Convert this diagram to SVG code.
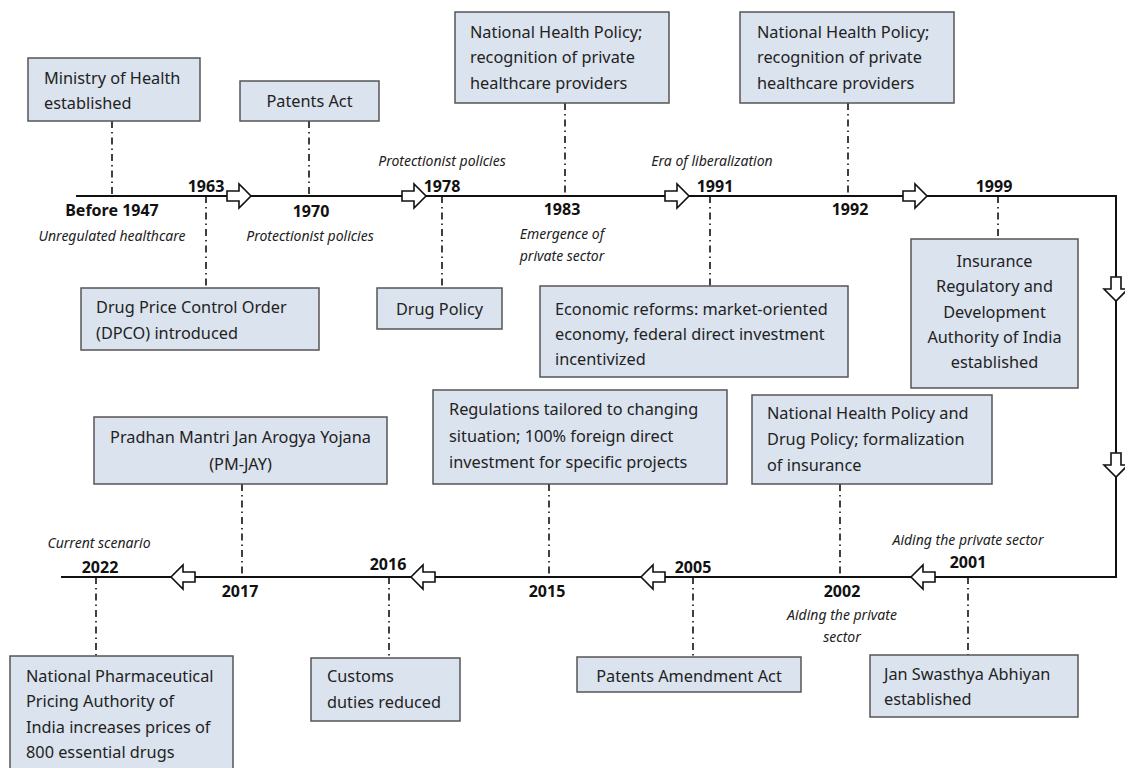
<svg xmlns="http://www.w3.org/2000/svg" width="1125" height="768" viewBox="0 0 1125 768">
<style>
.box{fill:#dbe3ef;stroke:#555;stroke-width:1.5}
.t{font-family:"Noto Sans","Open Sans",sans-serif;font-size:16.3px;fill:#222}
.c{text-anchor:middle}
.yr{font-family:"Noto Sans","Open Sans",sans-serif;font-size:16px;font-weight:bold;fill:#111;text-anchor:middle}
.it{font-family:"Noto Sans","Open Sans",sans-serif;font-size:14px;font-style:italic;fill:#222;text-anchor:middle}
.line{stroke:#111;stroke-width:2;fill:none}
.dd{stroke:#111;stroke-width:1.6;fill:none;stroke-dasharray:7 4 1.5 4}
.arr{fill:#fff;stroke:#111;stroke-width:1.6;stroke-linejoin:miter}
</style>
<defs>
<polygon id="ar" class="arr" points="-12,-5 0,-5 0,-12 12,0 0,12 0,5 -12,5"/>
</defs>
<rect width="1125" height="768" fill="#fff"/>
<g id="connectors">
<polyline class="line" points="76,196 1116,196 1116,577 61,577"/>
<line class="dd" x1="112" y1="121" x2="112" y2="196"/>
<line class="dd" x1="206" y1="196" x2="206" y2="288"/>
<line class="dd" x1="309" y1="121" x2="309" y2="196"/>
<line class="dd" x1="442" y1="196" x2="442" y2="288"/>
<line class="dd" x1="565" y1="103" x2="565" y2="196"/>
<line class="dd" x1="710" y1="196" x2="710" y2="286"/>
<line class="dd" x1="848" y1="103" x2="848" y2="196"/>
<line class="dd" x1="998" y1="196" x2="998" y2="239"/>
<line class="dd" x1="968" y1="577" x2="968" y2="655"/>
<line class="dd" x1="840" y1="484" x2="840" y2="577"/>
<line class="dd" x1="693" y1="577" x2="693" y2="657"/>
<line class="dd" x1="549" y1="484" x2="549" y2="577"/>
<line class="dd" x1="389" y1="577" x2="389" y2="658"/>
<line class="dd" x1="242" y1="484" x2="242" y2="577"/>
<line class="dd" x1="96" y1="577" x2="96" y2="656"/>
<use href="#ar" transform="translate(239,196)"/>
<use href="#ar" transform="translate(414,196)"/>
<use href="#ar" transform="translate(677,196)"/>
<use href="#ar" transform="translate(915,196)"/>
<use href="#ar" transform="translate(1116,289) rotate(90)"/>
<use href="#ar" transform="translate(1116,465) rotate(90)"/>
<use href="#ar" transform="translate(923,577) rotate(180)"/>
<use href="#ar" transform="translate(653,577) rotate(180)"/>
<use href="#ar" transform="translate(423,577) rotate(180)"/>
<use href="#ar" transform="translate(183,577) rotate(180)"/>
</g>
<g id="labels">
<text class="yr" x="112" y="216">Before 1947</text>
<text class="it" x="112" y="241">Unregulated healthcare</text>
<text class="yr" x="206" y="192">1963</text>
<text class="yr" x="311" y="217">1970</text>
<text class="it" x="310" y="241">Protectionist policies</text>
<text class="it" x="442" y="166">Protectionist policies</text>
<text class="yr" x="442" y="192">1978</text>
<text class="yr" x="562" y="215">1983</text>
<text class="it" x="562" y="239">Emergence of</text>
<text class="it" x="562" y="261">private sector</text>
<text class="it" x="712" y="166">Era of liberalization</text>
<text class="yr" x="715" y="192">1991</text>
<text class="yr" x="850" y="215">1992</text>
<text class="yr" x="994" y="192">1999</text>
<text class="it" x="968" y="545">Aiding the private sector</text>
<text class="yr" x="968" y="568">2001</text>
<text class="yr" x="842" y="597">2002</text>
<text class="it" x="842" y="620">Aiding the private</text>
<text class="it" x="842" y="642">sector</text>
<text class="yr" x="693" y="573">2005</text>
<text class="yr" x="547" y="597">2015</text>
<text class="yr" x="388" y="570">2016</text>
<text class="yr" x="240" y="597">2017</text>
<text class="it" x="99" y="548">Current scenario</text>
<text class="yr" x="100" y="573">2022</text>
</g>
<g id="n-ministry"><rect class="box" x="28" y="58" width="172" height="63"/><text class="t" x="44" y="84">Ministry of Health</text><text class="t" x="44" y="109">established</text></g>
<g id="n-patents"><rect class="box" x="240" y="81" width="139" height="40"/><text class="t c" x="309.5" y="107">Patents Act</text></g>
<g id="n-dpco"><rect class="box" x="81" y="288" width="238" height="62"/><text class="t" x="96" y="313">Drug Price Control Order</text><text class="t" x="96" y="339">(DPCO) introduced</text></g>
<g id="n-nhp1"><rect class="box" x="455" y="12" width="214" height="91"/><text class="t" x="470" y="38">National Health Policy;</text><text class="t" x="470" y="63">recognition of private</text><text class="t" x="470" y="89">healthcare providers</text></g>
<g id="n-drugpolicy"><rect class="box" x="377" y="288" width="125" height="41"/><text class="t c" x="439.5" y="315">Drug Policy</text></g>
<g id="n-reforms"><rect class="box" x="540" y="286" width="308" height="91"/><text class="t" x="555" y="315">Economic reforms: market-oriented</text><text class="t" x="555" y="340">economy, federal direct investment</text><text class="t" x="555" y="365">incentivized</text></g>
<g id="n-nhp2"><rect class="box" x="740" y="12" width="214" height="91"/><text class="t" x="757" y="38">National Health Policy;</text><text class="t" x="757" y="63">recognition of private</text><text class="t" x="757" y="89">healthcare providers</text></g>
<g id="n-irda"><rect class="box" x="911" y="239" width="167" height="149"/><text class="t c" x="994.5" y="267">Insurance</text><text class="t c" x="994.5" y="292">Regulatory and</text><text class="t c" x="994.5" y="318">Development</text><text class="t c" x="994.5" y="343">Authority of India</text><text class="t c" x="994.5" y="368">established</text></g>
<g id="n-nhpdrug"><rect class="box" x="752" y="395" width="240" height="89"/><text class="t" x="767" y="419">National Health Policy and</text><text class="t" x="767" y="445">Drug Policy; formalization</text><text class="t" x="767" y="471">of insurance</text></g>
<g id="n-regulations"><rect class="box" x="433" y="390" width="294" height="94"/><text class="t" x="449" y="415">Regulations tailored to changing</text><text class="t" x="449" y="442">situation; 100% foreign direct</text><text class="t" x="449" y="468">investment for specific projects</text></g>
<g id="n-pmjay"><rect class="box" x="94" y="417" width="293" height="67"/><text class="t c" x="240.5" y="443">Pradhan Mantri Jan Arogya Yojana</text><text class="t c" x="240.5" y="470">(PM-JAY)</text></g>
<g id="n-jsa"><rect class="box" x="870" y="655" width="208" height="62"/><text class="t" x="884" y="680">Jan Swasthya Abhiyan</text><text class="t" x="884" y="705">established</text></g>
<g id="n-patentsamend"><rect class="box" x="577" y="657" width="224" height="35"/><text class="t c" x="689" y="682">Patents Amendment Act</text></g>
<g id="n-customs"><rect class="box" x="311" y="658" width="149" height="63"/><text class="t" x="327" y="682">Customs</text><text class="t" x="327" y="708">duties reduced</text></g>
<g id="n-nppa"><rect class="box" x="10" y="656" width="223" height="120"/><text class="t" x="26" y="682">National Pharmaceutical</text><text class="t" x="26" y="707">Pricing Authority of</text><text class="t" x="26" y="733">India increases prices of</text><text class="t" x="26" y="758">800 essential drugs</text></g>
</svg>
